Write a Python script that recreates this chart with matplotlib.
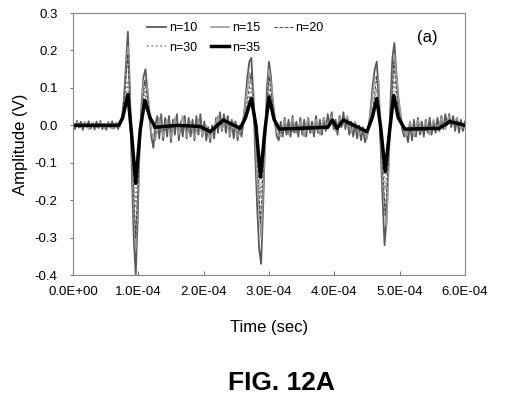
import numpy as np
import matplotlib
matplotlib.use("Agg")
import matplotlib.pyplot as plt

plt.rcParams['font.family'] = ['Liberation Sans', 'DejaVu Sans']

# times in microseconds
t10 = np.arange(0, 601, 3)
v10 = [0.005, -0.010, 0.012, -0.006, 0.010, -0.012, 0.008, -0.004, 0.011, -0.009,
       0.006, -0.011, 0.010, -0.007, 0.012, -0.010, 0.004, -0.012, 0.009, -0.006,
       0.011, -0.008, 0.006, -0.010, 0.008,
       0.02, 0.07, 0.16, 0.25, 0.10, -0.12, -0.30, -0.40, -0.25, -0.05,
       0.06, 0.13, 0.15, 0.09, 0.02, -0.03, -0.06, 0.00, 0.025,
       -0.035, 0.030, -0.040, 0.020, -0.030, 0.025, -0.045, 0.015, -0.025, 0.030,
       -0.040, 0.010, -0.030, 0.025, -0.035, 0.020, -0.030, 0.015, -0.040, 0.025,
       -0.025, 0.030, -0.030, 0.010, -0.040, -0.005, -0.045, 0.000, -0.035, 0.020,
       -0.020, 0.035, -0.015, 0.030, -0.020, 0.025, -0.030, 0.015, -0.035, 0.010,
       -0.040, 0.000,
       -0.03, 0.01, 0.07, 0.13, 0.17, 0.18, 0.08, -0.08, -0.22, -0.33,
       -0.37, -0.22, -0.04, 0.10, 0.17, 0.13, 0.06, 0.01, -0.03, -0.04,
       0.010, -0.030, 0.020, -0.025, 0.015, -0.030, 0.025, -0.020, 0.010, -0.030,
       0.020, -0.025, 0.015, -0.030, 0.020, -0.020, 0.010, -0.030, 0.025, -0.020,
       0.015, -0.025, 0.020, -0.015, 0.030, 0.000, 0.035, -0.010, 0.015, -0.025,
       0.025, -0.005, 0.035, -0.010, 0.020, -0.025, 0.010, -0.030, 0.005, -0.035,
       0.000, -0.040, -0.005, -0.045,
       -0.03, 0.00, 0.05, 0.11, 0.15, 0.17, 0.09, -0.06, -0.20, -0.32,
       -0.25, -0.10, 0.06, 0.18, 0.22, 0.14, 0.07, 0.03, -0.01, -0.03, -0.02,
       -0.045, 0.010, -0.040, 0.015, -0.030, 0.020, -0.025, 0.010, -0.030, 0.015,
       -0.020, 0.020, -0.025, 0.010, -0.020, 0.020, -0.015, 0.025, -0.010, 0.030,
       0.000, 0.030, -0.005, 0.025, -0.015, 0.020, -0.020, 0.015, -0.015, 0.010]

t15 = np.arange(0, 601, 6)
v15 = [-0.008, 0.010, -0.006, 0.009, -0.010, 0.007, -0.005, 0.010, -0.008, 0.006,
       -0.009, 0.008, -0.004,
       0.05, 0.21, -0.08, -0.33, -0.06, 0.12, 0.10, -0.02, -0.04,
       0.02, -0.03, 0.015, -0.035, 0.02, -0.025, 0.025, -0.03, 0.01, -0.035,
       0.015, -0.025, 0.0, -0.035, -0.005, 0.025, -0.01, 0.02, -0.025, 0.01,
       -0.03, -0.01, 0.06, 0.14, 0.10, -0.15, -0.30, -0.05, 0.15, 0.07, -0.02, -0.03,
       0.015, -0.025, 0.02, -0.02, 0.01, -0.03, 0.02, -0.02, 0.015, -0.025,
       0.02, -0.01, 0.025, -0.015, 0.02, 0.0, 0.025, -0.02, 0.01, -0.025, -0.01,
       -0.035, 0.04, 0.13, 0.12, -0.15, -0.27, 0.02, 0.19, 0.08, 0.0, -0.03,
       0.01, -0.03, 0.015, -0.02, 0.01, -0.025, 0.015, -0.015, 0.02, -0.01,
       0.025, 0.005, 0.02, -0.01, 0.005]

t_key = [0, 70, 76, 84, 90, 96, 103, 110, 118, 126, 160, 195, 210, 230, 256, 264,
         273, 280, 287, 294, 300, 308, 316, 390, 397, 404, 414, 450, 458, 465,
         471, 478, 485, 491, 498, 508, 560, 577, 600]
v20 = [0, 0, 0.03, 0.19, -0.05, -0.30, -0.02, 0.12, 0.02, -0.02, 0.0, -0.005, -0.02,
       0.015, -0.01, 0.03, 0.14, 0.0, -0.26, -0.02, 0.13, 0.02, -0.02, -0.005,
       0.015, -0.01, 0.015, -0.02, 0.03, 0.13, -0.01, -0.24, -0.03, 0.17, 0.04,
       -0.015, -0.01, 0.015, 0.0]
v30 = [0, 0, 0.025, 0.12, -0.04, -0.22, -0.02, 0.09, 0.02, -0.015, 0.0, -0.005,
       -0.018, 0.015, -0.01, 0.025, 0.10, 0.0, -0.19, -0.02, 0.10, 0.02, -0.015,
       -0.005, 0.015, -0.01, 0.015, -0.018, 0.025, 0.10, -0.01, -0.17, -0.02,
       0.12, 0.03, -0.012, -0.008, 0.012, 0.0]
v35 = [0, 0, 0.02, 0.083, -0.03, -0.155, -0.01, 0.067, 0.02, -0.005, 0.0, -0.003,
       -0.017, 0.014, -0.008, 0.02, 0.072, 0.0, -0.138, -0.01, 0.076, 0.015, -0.01,
       -0.005, 0.014, -0.008, 0.014, -0.017, 0.02, 0.072, -0.005, -0.124, -0.01,
       0.08, 0.02, -0.01, -0.008, 0.01, 0.0]

xticks = np.arange(0, 6.01e-4, 1e-4)
yticks = np.arange(-0.4, 0.31, 0.1)

fig = plt.figure(figsize=(5.16, 4.07), dpi=100)
ax = fig.add_axes([0.1415, 0.324, 0.7595, 0.644])

us = 1e-6
l10, = ax.plot(t10 * us, v10, color='#5a5a5a', lw=1.3, label='n=10')
l15, = ax.plot(t15 * us, v15, color='#9a9a9a', lw=1.2, label='n=15')
l20, = ax.plot(np.array(t_key) * us, v20, color='#444444', lw=0.7, ls='--', label='n=20')
l30, = ax.plot(np.array(t_key) * us, v30, color='#888888', lw=1.2, ls=':', label='n=30')
l35, = ax.plot(np.array(t_key) * us, v35, color='black', lw=2.5, label='n=35')

ax.set_xlim(0, 6e-4)
ax.set_ylim(-0.4, 0.3)
ax.set_xticks(xticks)
ax.set_xticklabels(['%.1E' % x for x in xticks])
ax.set_yticks(yticks)
ax.set_yticklabels(['%.1f' % y if abs(y) > 1e-9 else '0.0' for y in yticks])
ax.tick_params(axis='x', direction='in', length=3, pad=8, labelsize=9.5, color='#777777')
ax.tick_params(axis='y', direction='out', length=2, pad=9, labelsize=9.5, color='#777777')
for s in ax.spines.values():
    s.set_color('#888888')
    s.set_linewidth(0.8)

ax.set_xlabel('Time (sec)', fontsize=12, labelpad=16)
ax.set_ylabel('Amplitude (V)', fontsize=12, labelpad=5)

ax.text(0.905, 0.905, '(a)', transform=ax.transAxes, fontsize=12, ha='center', va='center')

ax.legend([l10, l30, l15, l35, l20], ['n=10', 'n=30', 'n=15', 'n=35', 'n=20'],
          ncol=3, frameon=False, loc='upper left', bbox_to_anchor=(0.19, 0.965),
          borderaxespad=0, borderpad=0, handlelength=1.5, handletextpad=0.2,
          columnspacing=1.1, fontsize=9, labelspacing=0.6)

fig.text(0.545, 0.06, 'FIG. 12A', fontsize=19, fontweight='bold', ha='center', va='center')

fig.savefig('out.png', dpi=100)
